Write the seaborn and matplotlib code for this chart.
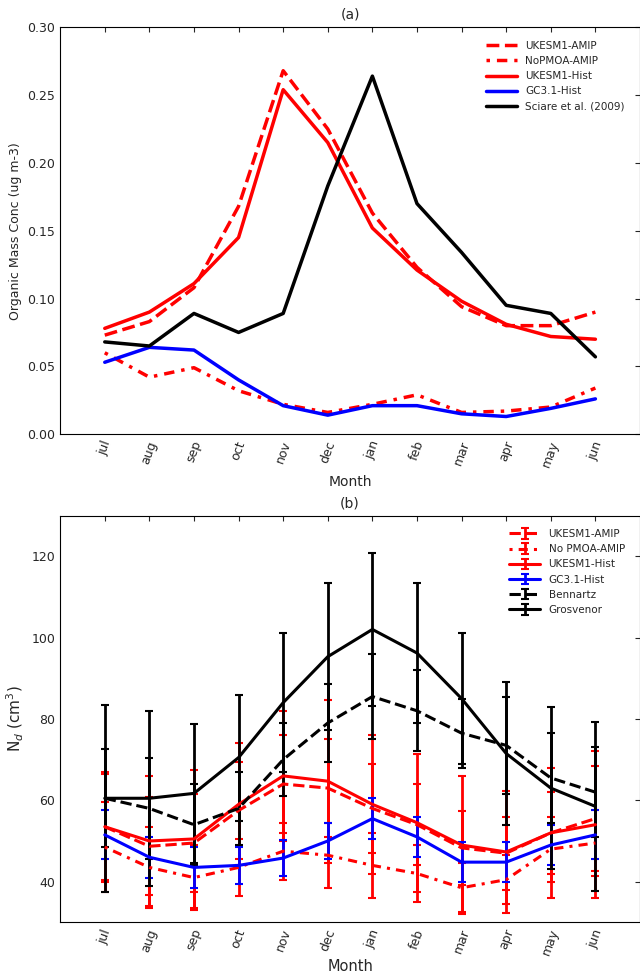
import numpy as np
import pandas as pd
import matplotlib
matplotlib.use('Agg')
import matplotlib.pyplot as plt
import seaborn as sns

sns.set_style('white')
plt.rcParams['font.family'] = ['DejaVu Sans']
plt.rcParams['xtick.direction'] = 'in'
plt.rcParams['ytick.direction'] = 'in'
plt.rcParams['xtick.top'] = True
plt.rcParams['ytick.right'] = True

months = ['jul', 'aug', 'sep', 'oct', 'nov', 'dec', 'jan', 'feb', 'mar', 'apr', 'may', 'jun']

# panel (a) organic mass
om_amip = [0.073, 0.083, 0.108, 0.168, 0.268, 0.225, 0.163, 0.123, 0.094, 0.080, 0.080, 0.090]
om_nopmoa = [0.060, 0.042, 0.049, 0.032, 0.022, 0.016, 0.022, 0.029, 0.016, 0.017, 0.020, 0.034]
om_hist = [0.078, 0.090, 0.111, 0.145, 0.254, 0.215, 0.152, 0.121, 0.098, 0.081, 0.072, 0.070]
om_gc31 = [0.053, 0.064, 0.062, 0.040, 0.021, 0.014, 0.021, 0.021, 0.015, 0.013, 0.019, 0.026]
om_sciare = [0.068, 0.065, 0.089, 0.075, 0.089, 0.183, 0.264, 0.170, 0.134, 0.095, 0.089, 0.057]

# panel (b) Nd, mean and error
nd_amip = [53.5, 48.7, 49.5, 57.5, 64, 63, 58, 54, 48.3, 47, 52, 55.5]
nd_amip_err = [13, 12, 12, 12, 12, 12, 11, 10, 9, 9, 10, 13]
nd_nopmoa = [48.5, 43.5, 41, 43.5, 47.5, 46.5, 44, 42, 38.5, 40.5, 48, 49.5]
nd_nopmoa_err = [11, 10, 8, 7, 7, 8, 8, 7, 6, 6, 8, 8]
nd_hist = [53.5, 50, 50.5, 59, 66, 64.7, 59, 54.5, 49, 47.3, 52, 54]
nd_hist_err = [13.5, 16, 17, 15, 16, 20, 17, 17, 17, 15, 16, 18]
nd_gc31 = [51.5, 46, 43.5, 44, 45.8, 50, 55.5, 51, 44.8, 44.8, 49, 51.5]
nd_gc31_err = [6, 5, 5, 4.5, 4.5, 4.5, 5, 5, 5, 5, 5, 6]
nd_benn = [60.5, 58, 54, 58, 70, 79, 85.5, 82, 76.5, 73.5, 65.5, 62]
nd_benn_err = [12, 12.5, 10, 9, 9, 9.5, 10.5, 10, 8.5, 12, 11, 11]
nd_gros = [60.5, 60.5, 61.7, 70.5, 84, 95.3, 102, 96.2, 85, 71.5, 63, 58.5]
nd_gros_err = [23, 21.5, 17, 15.5, 17, 18, 18.7, 17.3, 16.2, 17.5, 20, 20.7]

x = np.arange(len(months))
fig, (ax1, ax2) = plt.subplots(2, 1, figsize=(6.4, 9.75))
fig.subplots_adjust(left=0.094, right=1.0, top=0.972, bottom=0.054, hspace=0.2)

df_a = pd.DataFrame({'x': x, 'amip': om_amip, 'nopmoa': om_nopmoa, 'hist': om_hist,
                     'gc': om_gc31, 'sciare': om_sciare})
sns.lineplot(data=df_a, x='x', y='amip', ax=ax1, color='red', lw=2.5, ls='--', label='UKESM1-AMIP')
sns.lineplot(data=df_a, x='x', y='nopmoa', ax=ax1, color='red', lw=2.5, ls=(0, (1, 2, 3, 2)), label='NoPMOA-AMIP')
sns.lineplot(data=df_a, x='x', y='hist', ax=ax1, color='red', lw=2.5, label='UKESM1-Hist')
sns.lineplot(data=df_a, x='x', y='gc', ax=ax1, color='blue', lw=2.5, label='GC3.1-Hist')
sns.lineplot(data=df_a, x='x', y='sciare', ax=ax1, color='black', lw=2.5, label='Sciare et al. (2009)')
ax1.set_xlim(-1, 12)
ax1.set_ylim(0, 0.30)
ax1.set_xticks(x)
ax1.set_xticklabels(months, rotation=70)
ax1.set_xlabel('Month', fontsize=10)
ax1.set_ylabel('Organic Mass Conc (ug m-3)', fontsize=9)
ax1.set_title('(a)', fontsize=10)
ax1.tick_params(labelsize=9)
ax1.legend(loc='upper right', fontsize=7.5, frameon=False, handlelength=3,
           bbox_to_anchor=(0.99, 0.99))

series_b = [
    (nd_amip, nd_amip_err, 'red', '--', 'UKESM1-AMIP'),
    (nd_nopmoa, nd_nopmoa_err, 'red', (0, (1, 2, 3, 2)), 'No PMOA-AMIP'),
    (nd_hist, nd_hist_err, 'red', '-', 'UKESM1-Hist'),
    (nd_gc31, nd_gc31_err, 'blue', '-', 'GC3.1-Hist'),
    (nd_benn, nd_benn_err, 'black', '--', 'Bennartz'),
    (nd_gros, nd_gros_err, 'black', '-', 'Grosvenor'),
]
for vals, err, col, ls, lab in series_b:
    eb = ax2.errorbar(x, vals, yerr=err, color=col, lw=2.2, capsize=3, elinewidth=2,
                      capthick=1.5, label=lab)
    eb[-1][0].set_linestyle('-')
    eb[0].set_linestyle(ls)
ax2.set_xlim(-1, 12)
ax2.set_ylim(30, 130)
ax2.set_yticks([40, 60, 80, 100, 120])
ax2.set_xticks(x)
ax2.set_xticklabels(months, rotation=70)
ax2.set_xlabel('Month', fontsize=10.5, labelpad=1)
ax2.set_ylabel('N$_d$ (cm$^3$)', fontsize=11)
ax2.set_title('(b)', fontsize=10)
ax2.tick_params(labelsize=9)
ax2.legend(loc='upper right', fontsize=7.5, frameon=False, handlelength=3,
           bbox_to_anchor=(0.99, 0.99))

for ax in (ax1, ax2):
    for s in ax.spines.values():
        s.set_color('black')
        s.set_linewidth(0.8)

fig.savefig('out.png', dpi=100)
